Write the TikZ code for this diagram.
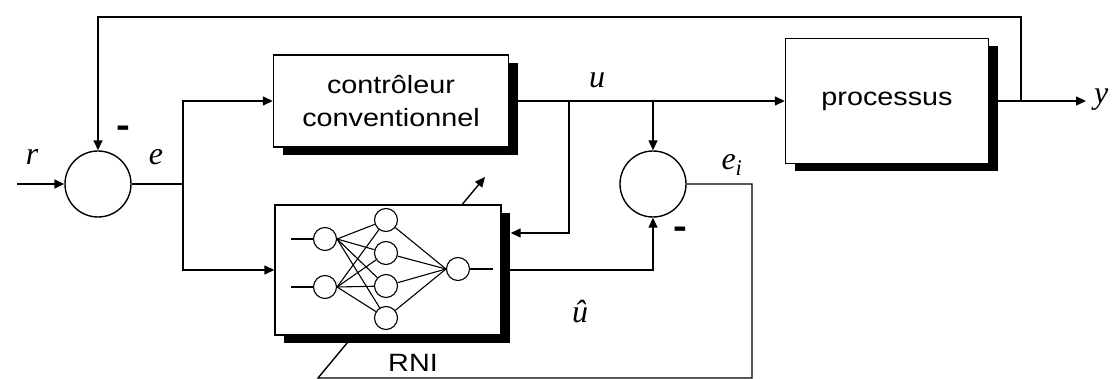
\documentclass[tikz,border=0pt]{standalone}
\usepackage{fontspec}
\setmainfont[FakeStretch=1.15]{Liberation Sans}
\newfontfamily\lblfont{Liberation Serif}
\usepackage{tikz}
\usetikzlibrary{arrows.meta, positioning, shadows, backgrounds}

\begin{document}
\begin{tikzpicture}[->, >={Triangle[length=10pt, width=9pt]}, x=1pt, y=-1pt, line width=1.4pt, font=\fontsize{25}{33}\selectfont]
  \tikzstyle{block} = [rectangle, draw, fill=white, align=center, drop shadow={shadow xshift=9pt, shadow yshift=-8pt, fill=black, opacity=1}]
  \tikzstyle{sum} = [circle, draw, minimum size=66pt, inner sep=0pt]
  \tikzstyle{neuron} = [circle, draw, minimum size=23pt, inner sep=0pt, line width=1.1pt]
  \tikzstyle{lbl} = [font=\lblfont\itshape\fontsize{32}{32}\selectfont]
  \tikzstyle{minus} = [font=\bfseries\fontsize{36}{36}\selectfont]

  \useasboundingbox (0,0) rectangle (1117,379);

  \node[sum] (sum1) at (98,184) {};
  \node[block, minimum width=235pt, minimum height=92pt] (ctrl) at (391,101) {contrôleur\\conventionnel};
  \node[block, minimum width=226pt, minimum height=130pt] (rni) at (388,270) {};
  \node[sum] (sum2) [right of=sum1, node distance=555pt] {};
  \node[block, minimum width=203pt, minimum height=125pt] (proc) at (887,101) {processus};

  % reseau de neurones
  \foreach \n/\y in {1/239, 2/287} {
    \node[neuron] (in\n) at (325,\y) {};
    \coordinate (stub\n) at (291,\y);
    \draw[-, line width=1.1pt] (stub\n) -- (in\n.west);
  }
  \foreach \n/\y in {1/220, 2/253, 3/286, 4/318}
    \node[neuron] (hid\n) at (386,\y) {};
  \node[neuron] (out) at (458,269) {};
  \foreach \i in {1,2}
    \foreach \h in {1,...,4}
      \draw[-, line width=1.1pt] (in\i.east) -- (hid\h);
  \foreach \h in {1,...,4}
    \draw[-, line width=1.1pt] (hid\h) -- (out.west);
  \coordinate (outstub) at (493,269);
  \draw[-, line width=1.1pt] (out.east) -- (outstub);
  \node (rnilbl) at (413,363) {RNI};

  % connexions
  \coordinate (start) at (17,184);
  \coordinate (ebr) at (183,184);
  \coordinate (ubr1) at (569,101);
  \coordinate (ubr2) at (sum2 |- ctrl.east);
  \coordinate (ybr) at (1021,101);
  \coordinate (yout) at (1086,101);
  \coordinate (topright) at (1021,17);

  \draw (start) -- (sum1.west);
  \draw[-] (sum1.east) -- (ebr);
  \draw (ebr) |- (ctrl.west);
  \draw (ebr) |- (rni.west);
  \draw (ctrl.east) -- (proc.west);
  \draw (ubr1) |- ([shift={(9,-37)}]rni.east);
  \draw (ubr2) -- (sum2.north);
  \draw (rni.east) -| (sum2.south);
  \draw (proc.east) -- (yout);
  \draw (ybr) -- (topright) -| (sum1.north);

  \begin{scope}[on background layer]
    \coordinate (eicorner) at (752,378);
    \coordinate (lowcorner) at (318,378);
    \coordinate (adapt) at (485,177);
    \draw[line width=1.4pt] (sum2.east) -| (eicorner) -- (lowcorner) -- (adapt);
  \end{scope}

  % etiquettes
  \node[lbl] (rlbl) at (32,157) {r};
  \node[lbl] (elbl) at (156,157) {e};
  \node[lbl] (ulbl) at (597,80) {u};
  \node[lbl] (uhatlbl) at (580,312) {û};
  \node[lbl] (eilbl) at (732,165) {e\textsubscript{i}};
  \node[lbl, anchor=west] (ylbl) at (1090,100) {y};
  \node[minus] (minus1) at (123,132) {-};
  \node[minus] (minus2) at (680,233) {-};
\end{tikzpicture}
\end{document}
